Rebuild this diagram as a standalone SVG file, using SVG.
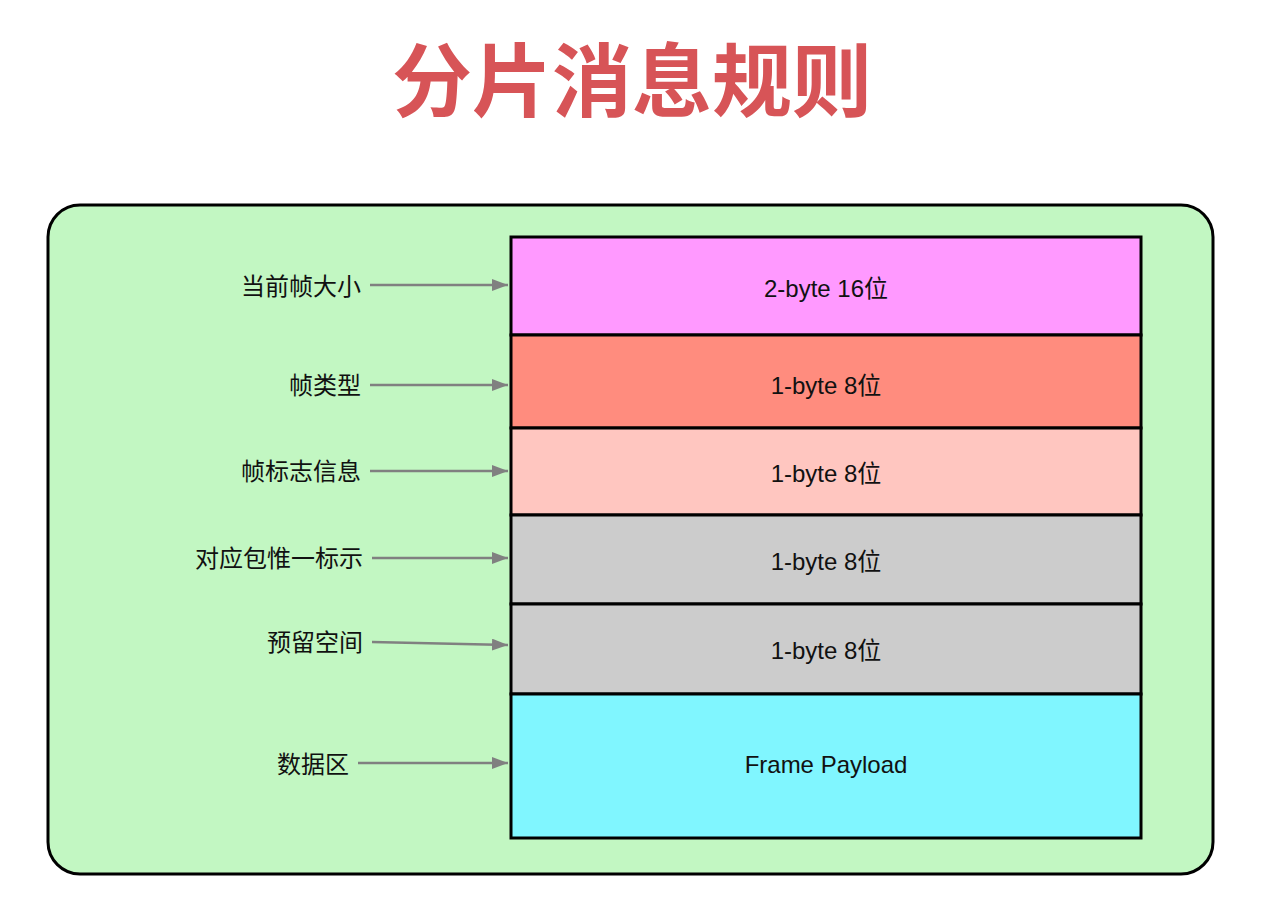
<svg xmlns="http://www.w3.org/2000/svg" width="1266" height="900" viewBox="0 0 1266 900">
<style>
.title{font-family:"Noto Sans CJK SC","Liberation Sans",sans-serif;font-weight:700;font-size:80px;fill:#d75457;text-anchor:middle}
.lbl{font-family:"Noto Sans CJK SC","Liberation Sans",sans-serif;font-size:24px;fill:#111;text-anchor:end}
.cell{stroke:#000;stroke-width:3}
.ct{font-family:"Liberation Sans","Noto Sans CJK SC",sans-serif;font-size:24px;fill:#111;text-anchor:middle}
.ar{stroke:#808080;stroke-width:2.5;fill:none;marker-end:url(#ah)}
</style>
<defs>
<marker id="ah" viewBox="0 0 16 12" refX="16" refY="6" markerWidth="16" markerHeight="12" markerUnits="userSpaceOnUse" orient="auto">
<path d="M0,0 L16,6 L0,12 z" fill="#808080"/>
</marker>
</defs>
<rect width="1266" height="900" fill="#fff"/>
<text class="title" x="632" y="110">分片消息规则</text>
<g id="container">
<rect x="48" y="205" width="1165" height="669" rx="32" ry="32" fill="#c2f7c2" stroke="#000" stroke-width="3"/>
</g>
<g id="row1"><rect class="cell" x="511" y="237" width="630" height="98" fill="#ff99ff"/><text class="ct" x="826" y="297">2-byte 16位</text></g>
<g id="row2"><rect class="cell" x="511" y="335" width="630" height="93" fill="#ff8c7e"/><text class="ct" x="826" y="394">1-byte 8位</text></g>
<g id="row3"><rect class="cell" x="511" y="428" width="630" height="87" fill="#ffc6c0"/><text class="ct" x="826" y="482">1-byte 8位</text></g>
<g id="row4"><rect class="cell" x="511" y="515" width="630" height="89" fill="#cccccc"/><text class="ct" x="826" y="570">1-byte 8位</text></g>
<g id="row5"><rect class="cell" x="511" y="604" width="630" height="90" fill="#cccccc"/><text class="ct" x="826" y="659">1-byte 8位</text></g>
<g id="row6"><rect class="cell" x="511" y="694" width="630" height="144" fill="#80f6ff"/><text class="ct" x="826" y="773">Frame Payload</text></g>
<g id="labels">
<text class="lbl" x="361" y="295">当前帧大小</text>
<text class="lbl" x="361" y="394">帧类型</text>
<text class="lbl" x="361" y="480">帧标志信息</text>
<text class="lbl" x="363" y="567">对应包惟一标示</text>
<text class="lbl" x="363" y="651">预留空间</text>
<text class="lbl" x="349" y="773">数据区</text>
</g>
<g id="connectors">
<line class="ar" x1="370" y1="285" x2="508" y2="285"/>
<line class="ar" x1="370" y1="385" x2="508" y2="385"/>
<line class="ar" x1="370" y1="471" x2="508" y2="471"/>
<line class="ar" x1="372" y1="558" x2="508" y2="558"/>
<line class="ar" x1="372" y1="642" x2="508" y2="645"/>
<line class="ar" x1="358" y1="763" x2="508" y2="763"/>
</g>
</svg>
